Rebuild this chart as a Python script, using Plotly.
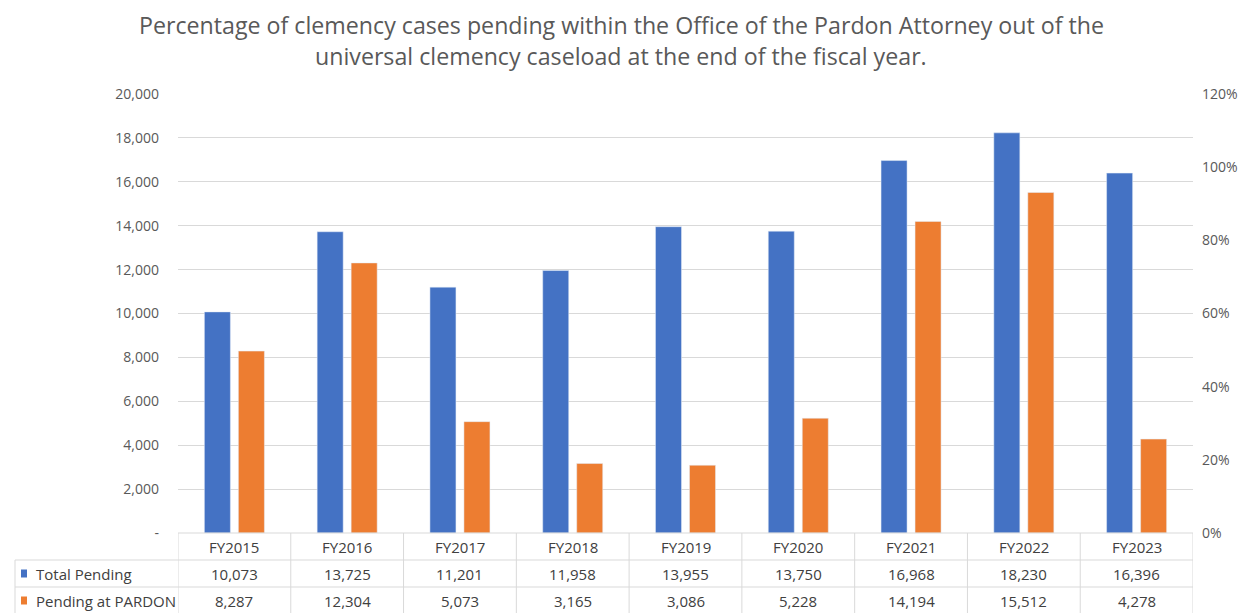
import plotly.graph_objects as go

categories = ["FY2015", "FY2016", "FY2017", "FY2018", "FY2019", "FY2020", "FY2021", "FY2022", "FY2023"]
total_pending = [10073, 13725, 11201, 11958, 13955, 13750, 16968, 18230, 16396]
pending_pardon = [8287, 12304, 5073, 3165, 3086, 5228, 14194, 15512, 4278]
series_names = ["Total Pending", "Pending at PARDON"]
left_ticks = [0, 2000, 4000, 6000, 8000, 10000, 12000, 14000, 16000, 18000, 20000]
left_ticktext = ["-" if v == 0 else f"{v:,}" for v in left_ticks]
right_ticks = [0, 0.2, 0.4, 0.6, 0.8, 1.0, 1.2]
title_lines = ["Percentage of clemency cases pending within the Office of the Pardon Attorney out of the",
               "universal clemency caseload at the end of the fiscal year."]

BLUE = "#4472C4"
ORANGE = "#ED7D31"
GRID = "#D9D9D9"
TXT = "#595959"
TBL = "#404040"
FONT = "Open Sans"

fig = go.Figure()
fig.add_trace(go.Bar(x=categories, y=total_pending, name=series_names[0], marker_color=BLUE))
fig.add_trace(go.Bar(x=categories, y=pending_pardon, name=series_names[1], marker_color=ORANGE))
fig.add_trace(go.Scatter(x=categories, y=[None] * len(categories), yaxis="y2", showlegend=False,
                         mode="lines", hoverinfo="skip"))

# page body has an 8px margin, so the figure is sized to fill the remaining window
OFF = 8
W, H = 1251 - OFF, 613 - OFF
L, T = 178 - OFF, 94 - OFF
R = W - (1193 - OFF)
B = H - (533 - OFF)
PW = W - L - R

fig.update_layout(
    width=W, height=H,
    margin=dict(l=L, r=R, t=T, b=B, autoexpand=False),
    paper_bgcolor="white", plot_bgcolor="white",
    showlegend=False,
    barmode="group", bargap=0.397, bargroupgap=0.235,
    font=dict(family=FONT, color=TXT, size=14),
    xaxis=dict(showticklabels=False, showgrid=False, showline=False, zeroline=False,
               ticks="", range=[-0.5, len(categories) - 0.5], automargin=False),
    yaxis=dict(range=[0, 20000], tickvals=left_ticks, ticktext=left_ticktext,
               showgrid=True, gridcolor=GRID, gridwidth=1, zeroline=False, showline=False,
               ticks="", ticklabelstandoff=18, tickfont=dict(size=14, color=TXT),
               automargin=False),
    yaxis2=dict(range=[0, 1.2], tickvals=right_ticks, tickformat=".0%", overlaying="y",
                side="right", showgrid=False, zeroline=False, showline=False, ticks="",
                ticklabelstandoff=8, tickfont=dict(size=14, color=TXT), automargin=False),
)

annotations = []
title_center = 621 - OFF
title_yshift = [69, 38]
for i, line in enumerate(title_lines):
    annotations.append(dict(text=line, xref="paper", yref="paper", x=0.5, y=1,
                            xanchor="center", yanchor="middle", showarrow=False,
                            xshift=title_center - (L + PW / 2), yshift=title_yshift[i],
                            font=dict(size=23.2, color=TXT, family=FONT)))

shapes = []
line_style = dict(color=GRID, width=1)
# horizontal table lines
shapes.append(dict(type="line", xref="paper", yref="paper", x0=0, x1=1, y0=0, y1=0, line=line_style))
for off in (-27, -54):
    shapes.append(dict(type="line", xref="paper", yref="paper", xsizemode="pixel", xanchor=0,
                       x0=-163, x1=PW, ysizemode="pixel", yanchor=0, y0=off, y1=off,
                       line=line_style))
# vertical table lines
for k in range(len(categories) + 1):
    shapes.append(dict(type="line", xref="x", yref="paper", x0=k - 0.5, x1=k - 0.5,
                       ysizemode="pixel", yanchor=0, y0=0, y1=-90, line=line_style))
shapes.append(dict(type="line", xref="paper", yref="paper", xsizemode="pixel", xanchor=0,
                   x0=-163, x1=-163, ysizemode="pixel", yanchor=0, y0=-27, y1=-90, line=line_style))

# header and value cells
rows = [total_pending, pending_pardon]
for i, cat in enumerate(categories):
    annotations.append(dict(text=cat, xref="x", yref="paper", x=i, y=0, yshift=-13.5,
                            xanchor="center", yanchor="middle", showarrow=False,
                            font=dict(size=15, color=TBL, family=FONT)))
    for r, vals in enumerate(rows):
        annotations.append(dict(text=f"{vals[i]:,}", xref="x", yref="paper", x=i, y=0,
                                yshift=-40.5 - 27 * r, xanchor="center", yanchor="middle",
                                showarrow=False, font=dict(size=15, color=TBL, family=FONT)))

# row labels with legend keys
for r, (name, col) in enumerate(zip(series_names, [BLUE, ORANGE])):
    yc = -40.5 - 27 * r
    shapes.append(dict(type="rect", xref="paper", yref="paper", xsizemode="pixel", xanchor=0,
                       x0=-157, x1=-151, ysizemode="pixel", yanchor=0, y0=yc - 4, y1=yc + 4,
                       fillcolor=col, line=dict(width=0)))
    annotations.append(dict(text=name, xref="paper", yref="paper", x=0, y=0,
                            xshift=-144, yshift=yc, xanchor="left", yanchor="middle",
                            showarrow=False, font=dict(size=15, color=TBL, family=FONT)))

fig.update_layout(annotations=annotations, shapes=shapes)
fig.write_html("out.html")
